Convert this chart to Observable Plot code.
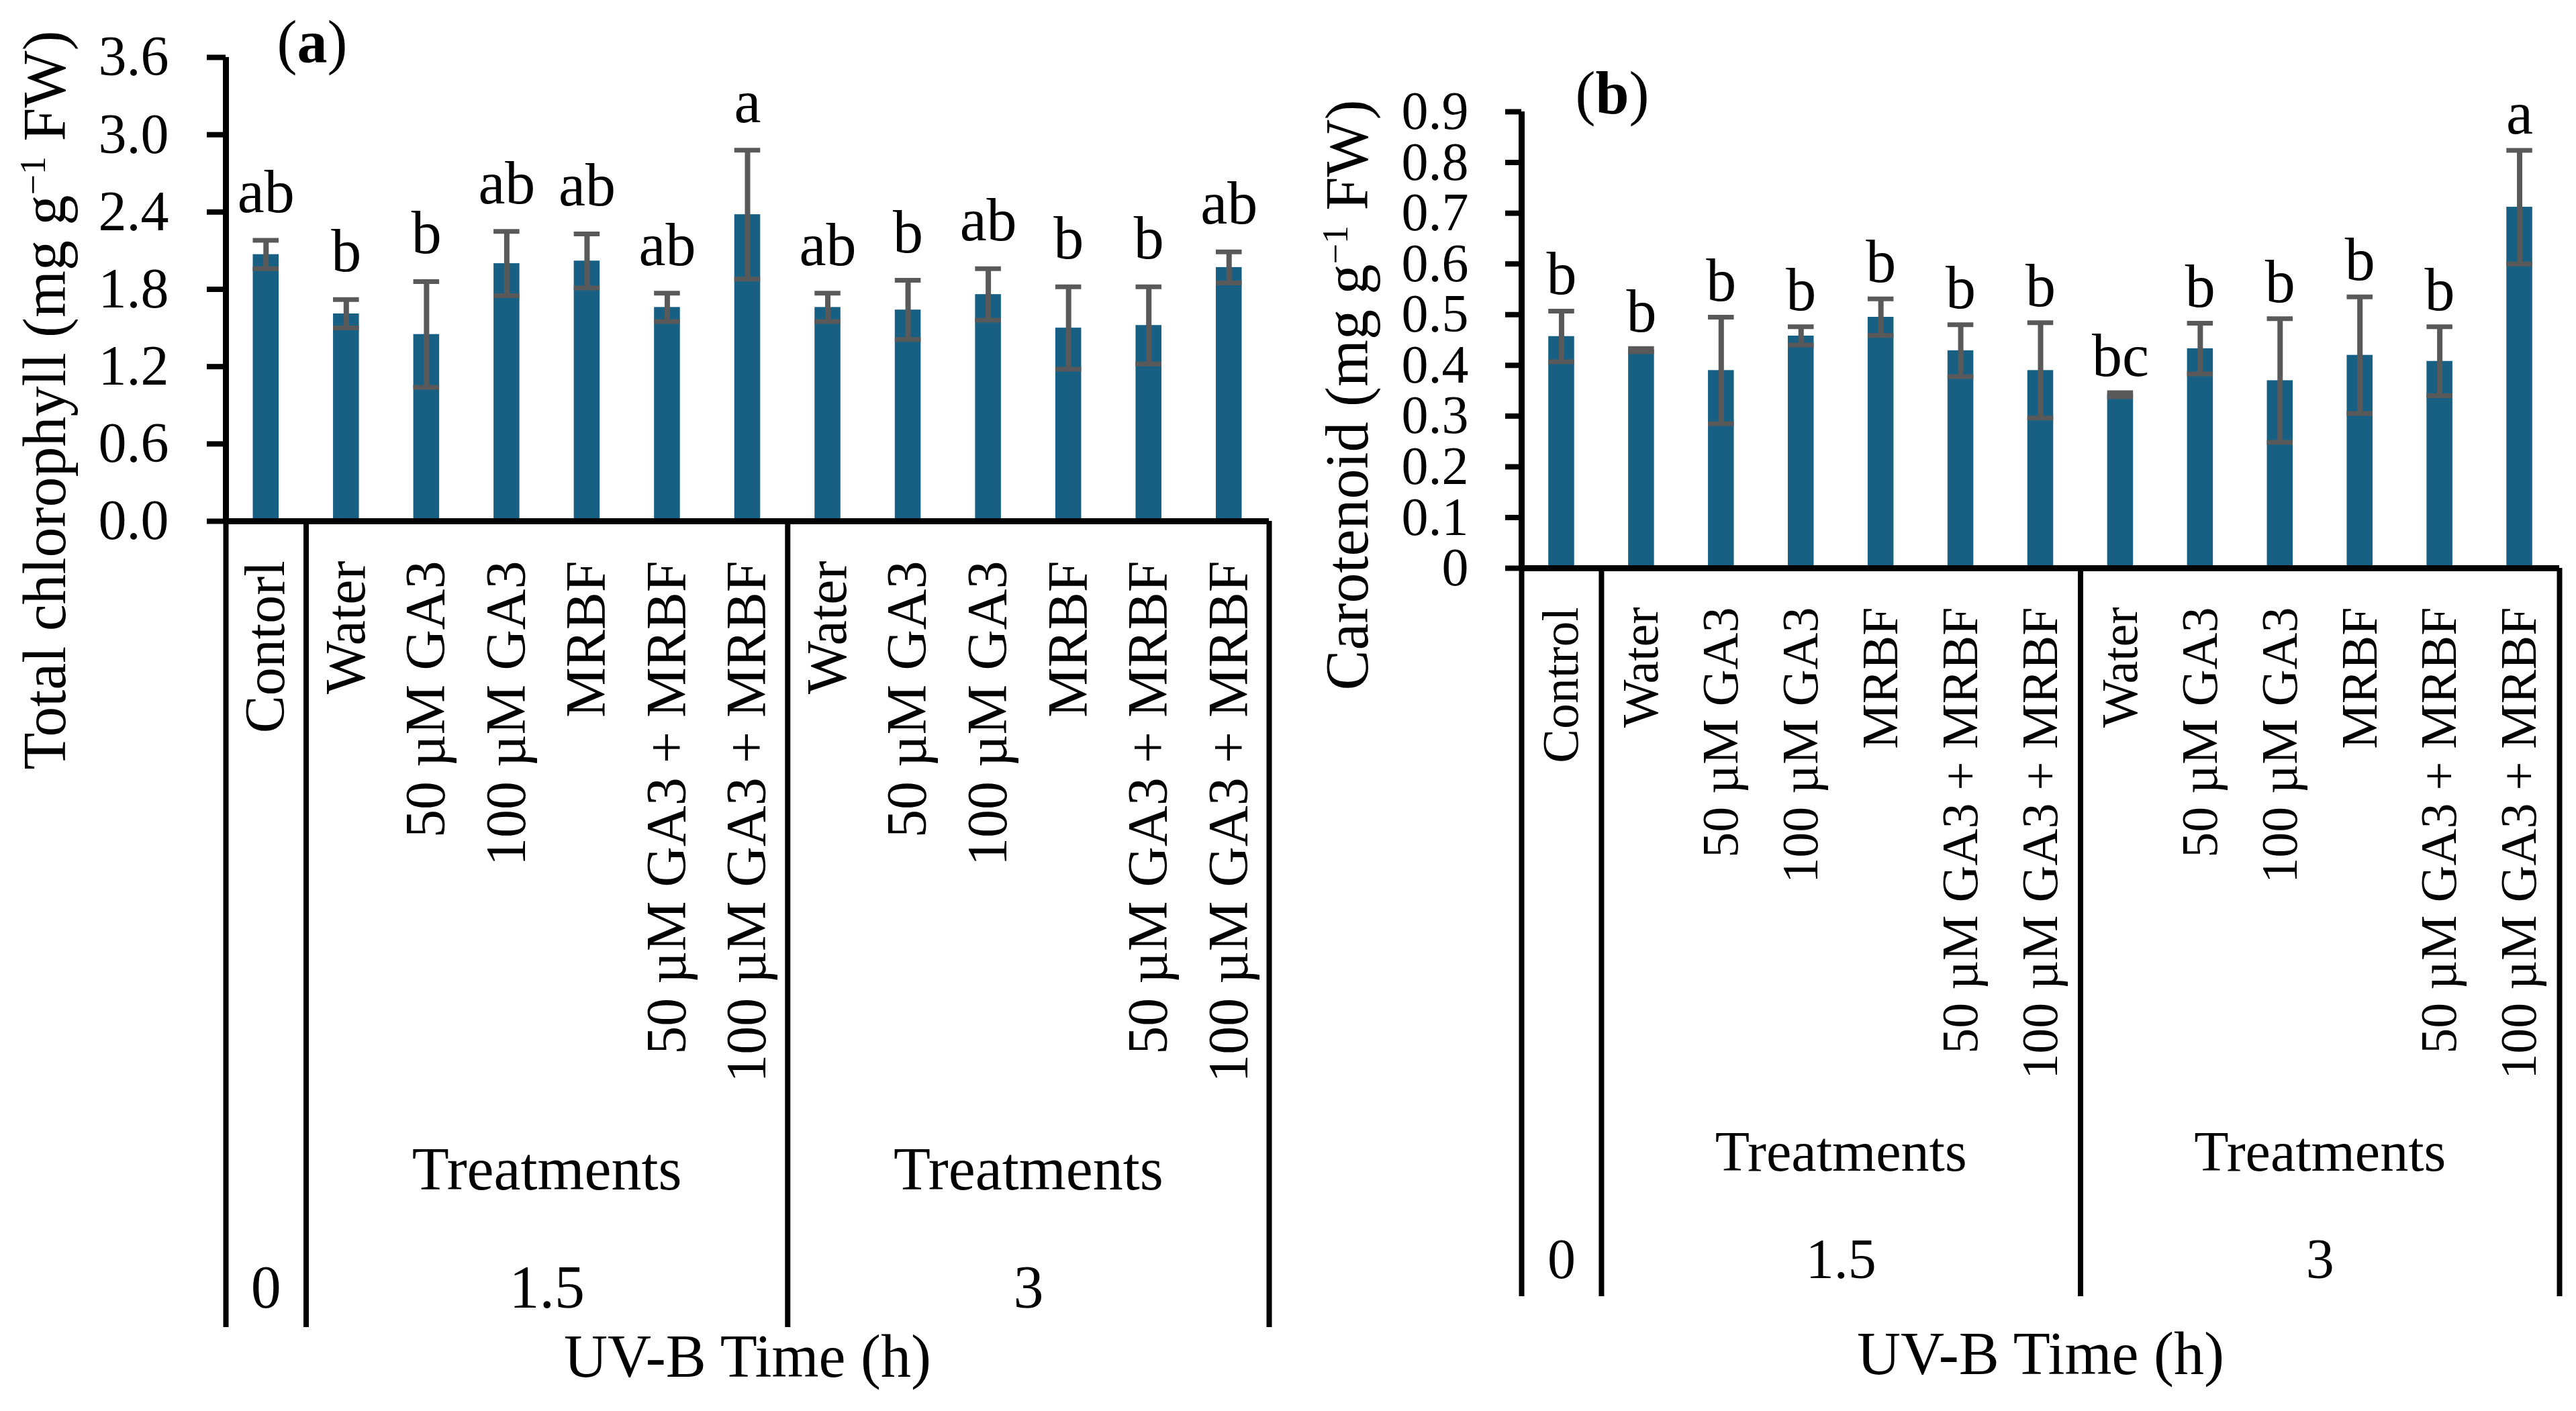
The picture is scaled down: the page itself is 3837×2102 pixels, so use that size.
<!DOCTYPE html>
<html><head><meta charset="utf-8">
<script src="https://cdn.jsdelivr.net/npm/d3@7"></script>
<script src="https://cdn.jsdelivr.net/npm/@observablehq/plot@0.6"></script>
<style>
html,body{margin:0;padding:0;background:#fff;width:3837px;height:2102px;overflow:hidden}
#pa,#pb{position:absolute;top:0}
#pa{left:0}
#pb{left:1950px}
svg{font-family:"Liberation Serif","DejaVu Serif",serif;color:#000;overflow:visible}
</style></head><body>
<div id="pa"></div><div id="pb"></div>
<script>
// ---- data ----
const labelsA = ["Contorl","Water","50 µM GA3","100 µM GA3","MRBF","50 µM GA3 + MRBF","100 µM GA3 + MRBF","Water","50 µM GA3","100 µM GA3","MRBF","50 µM GA3 + MRBF","100 µM GA3 + MRBF"];
const labelsB = ["Control","Water","50 µM GA3","100 µM GA3","MRBF","50 µM GA3 + MRBF","100 µM GA3 + MRBF","Water","50 µM GA3","100 µM GA3","MRBF","50 µM GA3 + MRBF","100 µM GA3 + MRBF"];
const chlMean = [2.07,1.61,1.45,2.00,2.02,1.66,2.38,1.66,1.64,1.76,1.50,1.52,1.97];
const chlSE   = [0.11,0.11,0.41,0.25,0.21,0.11,0.50,0.11,0.23,0.20,0.32,0.30,0.12];
const chlLetters = ["ab","b","b","ab","ab","ab","a","ab","b","ab","b","b","ab"];
const carMean = [0.457,0.430,0.390,0.458,0.495,0.429,0.390,0.342,0.433,0.370,0.420,0.408,0.712];
const carSE   = [0.050,0.003,0.105,0.018,0.036,0.051,0.094,0.004,0.050,0.122,0.115,0.068,0.112];
const carLetters = ["b","b","b","b","b","b","b","bc","b","b","b","b","a"];
const groupNames = ["0","1.5","3"];
const groupStart = [0,1,7];
const groupEnd   = [1,7,13];
const groupSub   = ["","Treatments","Treatments"];
const separators = [0,1,7,13];
const yTicksA = [0,0.6,1.2,1.8,2.4,3.0,3.6];
const yTickLabelsA = ["0.0","0.6","1.2","1.8","2.4","3.0","3.6"];
const yTicksB = [0,0.1,0.2,0.3,0.4,0.5,0.6,0.7,0.8,0.9];
const yTickLabelsB = ["0","0.1","0.2","0.3","0.4","0.5","0.6","0.7","0.8","0.9"];
const yLabelA = "Total chlorophyll (mg g⁻¹ FW)";
const yLabelB = "Carotenoid (mg g⁻¹ FW)";
const xLabel = "UV-B Time (h)";

const barColor = "#176083";
const errColor = "#595959";
const svgNS = "http://www.w3.org/2000/svg";

function panel(c) {
  const rows = c.labels.map((label, i) => ({i, label, mean: c.mean[i], se: c.se[i], letter: c.letters[i]}));
  const groups = groupNames.map((name, k) => ({name, sub: groupSub[k], center: (groupStart[k] + groupEnd[k]) / 2}));
  const plot = Plot.plot({
    width: c.width, height: 2102,
    marginLeft: c.ml, marginRight: c.mr, marginTop: c.mt, marginBottom: c.mb,
    x: {type: "linear", domain: [0, 13]},
    y: {domain: [0, c.ymax]},
    marks: [
      Plot.rectY(rows, {x1: "i", x2: d => d.i + 1, y: "mean", fill: barColor, insetLeft: c.inset, insetRight: c.inset}),
      Plot.ruleX(rows, {x: d => d.i + 0.5, y1: d => d.mean - d.se, y2: d => d.mean + d.se, stroke: errColor, strokeWidth: 8}),
      Plot.ruleY(rows, {y: d => d.mean + d.se, x1: "i", x2: d => d.i + 1, insetLeft: c.inset, insetRight: c.inset, stroke: errColor, strokeWidth: 7}),
      Plot.ruleY(rows, {y: d => d.mean - d.se, x1: "i", x2: d => d.i + 1, insetLeft: c.inset, insetRight: c.inset, stroke: errColor, strokeWidth: 7}),
      Plot.ruleY([0], {stroke: "#000", strokeWidth: 9}),
      Plot.ruleX([0], {stroke: "#000", strokeWidth: 9}),
      Plot.axisY({ticks: c.yTicks, tickFormat: d => c.yTickLabels[c.yTicks.indexOf(d)], tickSize: c.tickSize, tickPadding: c.tickPad, fontSize: c.tickFont, strokeWidth: 8, stroke: "#000", fill: "#000", label: null}),
      Plot.axisX({ticks: separators, tickSize: c.sepLen, tickFormat: () => "", strokeWidth: 8, stroke: "#000", label: null}),
      Plot.text(rows, {x: d => d.i + 0.5, y: d => d.mean + d.se, text: "letter", lineAnchor: "bottom", dy: c.letterDy, fontSize: 90, fill: "#000"}),
      Plot.text(rows, {x: d => d.i + 0.5, y: 0, text: "label", rotate: -90, textAnchor: "end", lineAnchor: "middle", dy: c.catDy, fontSize: c.catFont, fill: "#000"}),
      Plot.text(groups, {x: "center", y: 0, text: "sub", lineAnchor: "bottom", dy: c.subDy, fontSize: c.groupFont, fill: "#000"}),
      Plot.text(groups, {x: "center", y: 0, text: "name", lineAnchor: "bottom", dy: c.nameDy, fontSize: c.groupFont, fill: "#000"}),
      Plot.text([xLabel], {frameAnchor: "bottom", lineAnchor: "bottom", dy: c.xlabDy, fontSize: 90, fill: "#000"}),
      Plot.text([c.yLabel], {frameAnchor: "left", rotate: -90, lineAnchor: "bottom", textAnchor: "middle", dx: c.ylabDx, dy: c.ylabDy, fontSize: 90, fill: "#000"}),
      Plot.text([c.tag], {frameAnchor: "top-left", textAnchor: "start", lineAnchor: "bottom", dx: c.tagDx, dy: c.tagDy, fontSize: 90, fill: "#000"})
    ]
  });
  plot.querySelectorAll("text").forEach(t => {
    const s = t.textContent;
    if (s === c.tag) {
      const letter = s.slice(1, -1);
      t.textContent = "";
      t.append("(");
      const ts = document.createElementNS(svgNS, "tspan");
      ts.setAttribute("font-weight", "bold");
      ts.textContent = letter;
      t.append(ts);
      t.append(")");
    } else if (s === c.yLabel) {
      const [pre, post] = s.split("⁻¹");
      t.textContent = "";
      t.append(pre);
      const ts = document.createElementNS(svgNS, "tspan");
      ts.setAttribute("baseline-shift", "super");
      ts.setAttribute("font-size", "60%");
      ts.textContent = "−1";
      t.append(ts);
      const ts2 = document.createElementNS(svgNS, "tspan");
      ts2.textContent = post;
      t.append(ts2);
    }
  });
  return plot;
}

document.getElementById("pa").append(panel({
  labels: labelsA, mean: chlMean, se: chlSE, letters: chlLetters, ymax: 3.6,
  yTicks: yTicksA, yTickLabels: yTickLabelsA, yLabel: yLabelA, tag: "(a)",
  width: 1950, ml: 336, mr: 60, mt: 85, mb: 2102 - 776,
  inset: 40.5, tickSize: 28, tickPad: 57, tickFont: 84, catFont: 84, groupFont: 90,
  sepLen: 1201, letterDy: -42, catDy: 59, subDy: 995, nameDy: 1171, xlabDy: 1274,
  ylabDx: -240, ylabDy: 165, tagDx: 76, tagDy: 7
}));
document.getElementById("pb").append(panel({
  labels: labelsB, mean: carMean, se: carSE, letters: carLetters, ymax: 0.9,
  yTicks: yTicksB, yTickLabels: yTickLabelsB, yLabel: yLabelB, tag: "(b)",
  width: 1887, ml: 316, mr: 25, mt: 166, mb: 2102 - 846,
  inset: 40.2, tickSize: 24, tickPad: 55, tickFont: 80, catFont: 76, groupFont: 84,
  sepLen: 1085, letterDy: -25, catDy: 58, subDy: 897, nameDy: 1057, xlabDy: 1200,
  ylabDx: -230, ylabDy: 82, tagDx: 80, tagDy: 2
}));
</script>
</body></html>
